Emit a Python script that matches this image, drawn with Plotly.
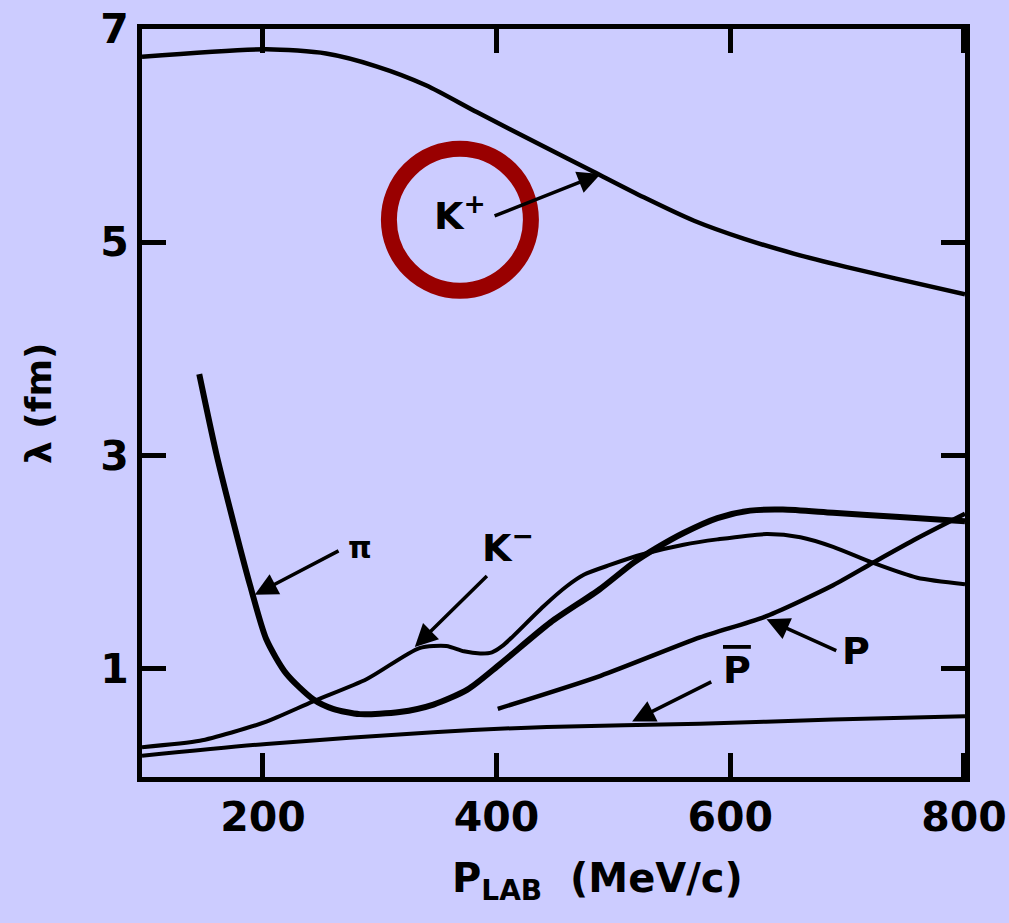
import plotly.graph_objects as go

# ---- data ----
x_kplus = [96.5, 203, 254, 297, 340, 383, 440, 483, 526, 569, 612, 655, 698, 741, 800.9]
y_kplus = [6.74, 6.81, 6.77, 6.65, 6.47, 6.22, 5.90, 5.66, 5.42, 5.20, 5.03, 4.89, 4.77, 4.66, 4.51]

x_pi = [145.5, 160, 175, 189, 203, 220, 243, 260, 283, 317, 346, 375, 403, 446,
        488, 517, 537, 560, 589, 617, 645, 688, 745, 800.9]
y_pi = [3.76, 3.02, 2.36, 1.78, 1.27, 0.95, 0.71, 0.62, 0.57, 0.59, 0.66, 0.80,
        1.04, 1.43, 1.74, 1.99, 2.13, 2.27, 2.41, 2.48, 2.49, 2.46, 2.42, 2.38]

x_kminus = [96.5, 146, 174, 203, 243, 289, 334, 357, 372, 386, 396, 405, 414, 440,
            460, 475, 497, 525, 560, 589, 631, 660, 688, 722, 760, 800.9]
y_kminus = [0.26, 0.32, 0.40, 0.50, 0.69, 0.90, 1.19, 1.21, 1.16, 1.14, 1.15, 1.21,
            1.30, 1.58, 1.77, 1.88, 1.97, 2.07, 2.16, 2.21, 2.26, 2.23, 2.14,
            1.99, 1.85, 1.79]

x_p = [401, 489, 574, 631, 688, 722, 760, 800.9]
y_p = [0.62, 0.93, 1.29, 1.49, 1.78, 1.99, 2.22, 2.45]

x_pbar = [96.5, 203, 346, 443, 574, 688, 800.9]
y_pbar = [0.18, 0.29, 0.40, 0.45, 0.48, 0.52, 0.55]

x_ticks = [200, 400, 600, 800]
y_ticks = [1, 3, 5, 7]

BG = "#CCCCFF"
FONT = "DejaVu Sans, Liberation Sans, Arial, sans-serif"

fig = go.Figure()
for xs, ys, w in [(x_kplus, y_kplus, 4.5), (x_pi, y_pi, 6), (x_kminus, y_kminus, 4),
                  (x_p, y_p, 4.5), (x_pbar, y_pbar, 4)]:
    fig.add_trace(go.Scatter(x=xs, y=ys, mode="lines",
                             line=dict(color="black", width=w, shape="spline", smoothing=0.7),
                             showlegend=False, hoverinfo="skip"))

# arrows: (tip x, tip y, tail x, tail y)
arrows = [
    (489, 5.64, 397, 5.24),   # K+
    (193, 1.69, 266, 2.11),   # pi
    (330, 1.20, 393, 1.88),   # K-
    (631, 1.46, 692, 1.16),   # p
    (516, 0.50, 585, 0.88),   # pbar
]
annotations = []
for tx, ty, ax, ay in arrows:
    annotations.append(dict(x=tx, y=ty, ax=ax, ay=ay, xref="x", yref="y",
                            axref="x", ayref="y", text="", showarrow=True,
                            arrowhead=2, arrowsize=1.3, arrowwidth=3.5,
                            arrowcolor="black", standoff=0, startstandoff=0))

labels = [
    ("K<sup>+</sup>", 369, 5.27, 38),
    ("π", 283, 2.13, 30),
    ("K<sup>−</sup>", 410, 2.16, 38),
    ("P", 708, 1.16, 38),
    ('<span style="text-decoration:overline">P</span>', 606, 0.98, 38),
]
for t, x, y, s in labels:
    annotations.append(dict(x=x, y=y, xref="x", yref="y", text=t, showarrow=False,
                            font=dict(family=FONT, size=s, color="black", weight="bold")))

# axis titles
annotations.append(dict(x=0.553, y=-0.102, xref="paper", yref="paper",
                        text="P<sub>LAB</sub>  (MeV/c)", showarrow=False,
                        xanchor="center", yanchor="top",
                        font=dict(family=FONT, size=40, color="black", weight="bold")))
annotations.append(dict(x=-0.126, y=0.499, xref="paper", yref="paper",
                        text="λ (fm)", showarrow=False, textangle=-90,
                        xanchor="center", yanchor="middle",
                        font=dict(family=FONT, size=36, color="black", weight="bold")))

fig.add_shape(type="circle", xref="x", yref="y", xsizemode="pixel", ysizemode="pixel",
              xanchor=368.6, yanchor=5.21, x0=-71, x1=71, y0=-71, y1=71,
              line=dict(color="#990000", width=16))

fig.update_layout(
    width=1009, height=923,
    margin=dict(l=142, r=44, t=29, b=146, autoexpand=False),
    paper_bgcolor=BG, plot_bgcolor=BG,
    annotations=annotations,
    showlegend=False,
)
fig.update_xaxes(range=[96.5, 800.9], tickvals=x_ticks, ticktext=[str(v) for v in x_ticks],
                 automargin=False,
                 showgrid=False, zeroline=False, showline=True, linecolor="black",
                 linewidth=5, mirror="ticks", ticks="inside", ticklen=24, tickwidth=5,
                 tickcolor="black",
                 tickfont=dict(family=FONT, size=41, color="black", weight="bold"))
fig.update_yaxes(range=[-0.02, 7.0], tickvals=y_ticks, ticktext=[str(v) for v in y_ticks],
                 automargin=False,
                 showgrid=False, zeroline=False, showline=True, linecolor="black",
                 linewidth=5, mirror="ticks", ticks="inside", ticklen=24, tickwidth=5,
                 tickcolor="black",
                 tickfont=dict(family=FONT, size=41, color="black", weight="bold"))

fig.write_html("out.html", config={"displayModeBar": False},
               post_script="document.body.style.margin='0';document.body.style.background='#CCCCFF';")
